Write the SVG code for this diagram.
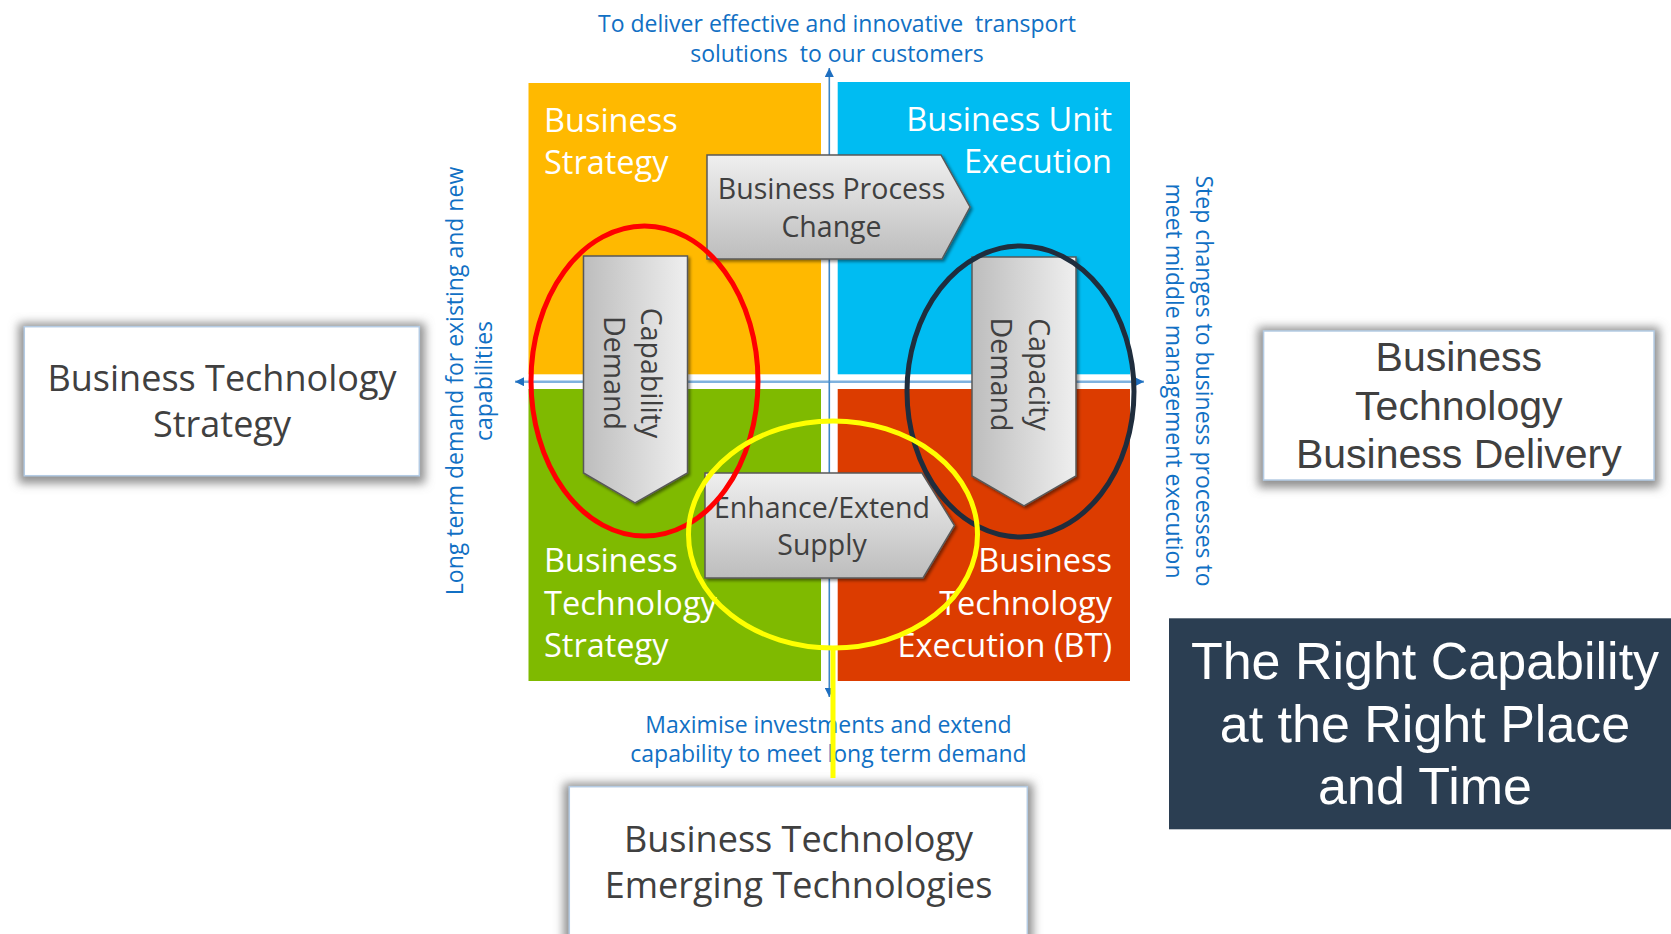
<svg xmlns="http://www.w3.org/2000/svg" width="1671" height="934" viewBox="0 0 1671 934">
<style>
.seg{font-family:'Segoe UI','Open Sans','Noto Sans',sans-serif}
.ari{font-family:'Liberation Sans',Arial,sans-serif}
.qt{font-size:32.5px;fill:#FFFFFF}
.at{font-size:28.5px;fill:#404040}
.note{font-size:23px;fill:#1170C4}
.bt{font-size:36px;fill:#404040}
.arrow{stroke:#595959;stroke-width:1.5;filter:url(#sh)}
.box{fill:#FFFFFF;stroke:#B4CBE3;stroke-width:1.5;filter:url(#glow)}
.ring{fill:none;stroke-width:5}
.conn{stroke-width:5;fill:none}
</style>
<defs>
<linearGradient id="gh" x1="0" y1="0" x2="0" y2="1">
<stop offset="0" stop-color="#EFEFEF"/><stop offset="1" stop-color="#BDBDBD"/>
</linearGradient>
<linearGradient id="gv" x1="0" y1="0" x2="1" y2="0">
<stop offset="0" stop-color="#BDBDBD"/><stop offset="1" stop-color="#EFEFEF"/>
</linearGradient>
<filter id="sh" x="-10%" y="-10%" width="130%" height="130%">
<feDropShadow dx="2" dy="2" stdDeviation="1.5" flood-color="#000" flood-opacity="0.45"/>
</filter>
<filter id="glow" x="-20%" y="-30%" width="140%" height="160%">
<feMorphology in="SourceAlpha" operator="dilate" radius="5" result="d"/>
<feGaussianBlur in="d" stdDeviation="5" result="b"/>
<feOffset in="b" dx="0" dy="2" result="o"/>
<feFlood flood-color="#8A8A8A" flood-opacity="0.95"/>
<feComposite in2="o" operator="in" result="s"/>
<feMerge><feMergeNode in="s"/><feMergeNode in="SourceGraphic"/></feMerge>
</filter>
<filter id="lsh" x="-5%" y="-200%" width="110%" height="500%">
<feDropShadow dx="0" dy="3" stdDeviation="2" flood-color="#000" flood-opacity="0.3"/>
</filter>
<marker id="ah" viewBox="0 0 10 10" refX="10" refY="5" markerWidth="10" markerHeight="9" markerUnits="userSpaceOnUse" orient="auto">
<path d="M0,0 L10,5 L0,10 z" fill="#1F6FC0"/>
</marker>
</defs>
<rect width="1671" height="934" fill="#FFFFFF"/>

<g id="quadrant-business-strategy">
<rect x="528.5" y="83" width="292.5" height="291.3" fill="#FFB900"/>
<text class="seg qt" x="544" y="131.5">Business<tspan x="544" y="173.5">Strategy</tspan></text>
</g>
<g id="quadrant-business-unit-execution">
<rect x="837.7" y="82" width="292.3" height="292.3" fill="#00BCF2"/>
<text class="seg qt" text-anchor="end" x="1112" y="131">Business Unit<tspan x="1112" y="173">Execution</tspan></text>
</g>
<g id="quadrant-bt-strategy">
<rect x="528.5" y="389" width="292.5" height="292" fill="#7FBA00"/>
<text class="seg qt" x="544" y="572">Business<tspan x="544" y="615">Technology</tspan><tspan x="544" y="657">Strategy</tspan></text>
</g>
<g id="quadrant-bt-execution">
<rect x="837.7" y="389" width="292.3" height="292" fill="#DC3C00"/>
<text class="seg qt" text-anchor="end" x="1112" y="572">Business<tspan x="1112" y="615">Technology</tspan><tspan x="1112" y="657">Execution (BT)</tspan></text>
</g>

<g id="axes">
<line x1="829.3" y1="381.7" x2="515" y2="381.7" stroke="#7FB2DE" stroke-width="2.5" marker-end="url(#ah)"/>
<line x1="829.3" y1="381.7" x2="1144" y2="381.7" stroke="#7FB2DE" stroke-width="2.5" marker-end="url(#ah)"/>
<line x1="829.3" y1="381.7" x2="829.3" y2="68" stroke="#3E86C6" stroke-width="1.6" marker-end="url(#ah)"/>
<line x1="829.3" y1="381.7" x2="829.3" y2="697" stroke="#3E86C6" stroke-width="1.6" marker-end="url(#ah)"/>
</g>

<g id="note-top">
<text class="seg note" text-anchor="middle" xml:space="preserve" x="837" y="32.3">To deliver effective and innovative  transport</text>
<text class="seg note" text-anchor="middle" xml:space="preserve" x="837" y="61.5">solutions  to our customers</text>
</g>
<g id="note-bottom">
<text class="seg note" text-anchor="middle" x="828.5" y="733">Maximise investments and extend</text>
<text class="seg note" text-anchor="middle" x="828.5" y="762">capability to meet long term demand</text>
</g>
<g id="note-left">
<text class="seg note" text-anchor="middle" transform="translate(463.3,381) rotate(-90)"><tspan x="0" y="0">Long term demand for existing and new</tspan><tspan x="0" y="28.4">capabilities</tspan></text>
</g>
<g id="note-right">
<text class="seg note" text-anchor="middle" transform="translate(1196,381) rotate(90)"><tspan x="0" y="0">Step changes to business processes to</tspan><tspan x="0" y="30">meet middle management execution</tspan></text>
</g>

<g id="arrow-business-process-change">
<polygon class="arrow" points="707,155 941,155 970,207 942,259 707,259" fill="url(#gh)"/>
<text class="seg at" text-anchor="middle" x="831.5" y="199">Business Process<tspan x="831.5" y="237">Change</tspan></text>
</g>
<g id="arrow-capability-demand">
<polygon class="arrow" points="583.5,256 687.5,256 687.5,473 635,503 583.5,473" fill="url(#gv)"/>
<text class="seg at" text-anchor="middle" transform="translate(635,373) rotate(90)"><tspan x="0" y="-5.6">Capability</tspan><tspan x="0" y="31.4">Demand</tspan></text>
</g>
<g id="arrow-capacity-demand">
<polygon class="arrow" points="972,257 1076,257 1076,476 1024,506 972,476" fill="url(#gv)"/>
<text class="seg at" text-anchor="middle" transform="translate(1024,374.5) rotate(90)"><tspan x="0" y="-5">Capacity</tspan><tspan x="0" y="33">Demand</tspan></text>
</g>
<g id="arrow-enhance-extend-supply">
<polygon class="arrow" points="705,473 922,473 954.5,525.5 923,578 705,578" fill="url(#gh)"/>
<text class="seg at" text-anchor="middle" x="822" y="518.3">Enhance/Extend<tspan x="822" y="555">Supply</tspan></text>
</g>

<g id="box-bt-strategy">
<rect class="box" x="24.3" y="326.7" width="395" height="149"/>
<text class="seg bt" text-anchor="middle" x="222" y="390.7">Business Technology<tspan x="222" y="437.3">Strategy</tspan></text>
</g>
<g id="box-bt-business-delivery">
<rect class="box" x="1263.6" y="331" width="390.4" height="149"/>
<text class="ari" font-size="41" fill="#404040" text-anchor="middle" x="1458.8" y="371">Business<tspan x="1458.8" y="420">Technology</tspan><tspan x="1458.8" y="468">Business Delivery</tspan></text>
</g>
<g id="box-bt-emerging-technologies">
<rect class="box" x="569.3" y="786.7" width="458" height="175"/>
<text class="seg bt" text-anchor="middle" x="798.5" y="851.7">Business Technology<tspan x="798.5" y="898.3">Emerging Technologies</tspan></text>
</g>
<g id="title-box">
<rect x="1169" y="618.3" width="502" height="211" fill="#2B3E52"/>
<text class="ari" font-size="52" fill="#FFFFFF" text-anchor="middle" x="1425" y="679">The Right Capability<tspan x="1425" y="741.5">at the Right Place</tspan><tspan x="1425" y="804">and Time</tspan></text>
</g>

<g id="ring-red"><ellipse class="ring" cx="644.5" cy="381" rx="113.5" ry="155" stroke="#FF0000"/></g>
<g id="ring-navy"><ellipse class="ring" cx="1020.5" cy="391.5" rx="113.5" ry="145.5" stroke="#1F2D3D"/></g>
<g id="ring-yellow"><ellipse class="ring" cx="833" cy="534.5" rx="144.5" ry="113.5" stroke="#FFFF00"/></g>

<g id="connectors">
<line class="conn" x1="420.5" y1="391" x2="531.5" y2="391" stroke="#E8302A" filter="url(#lsh)"/>
<line class="conn" x1="1134" y1="391" x2="1268" y2="391" stroke="#1F2D3D" filter="url(#lsh)"/>
<line class="conn" x1="833" y1="648" x2="833" y2="778" stroke="#FFFF00"/>
</g>
</svg>
